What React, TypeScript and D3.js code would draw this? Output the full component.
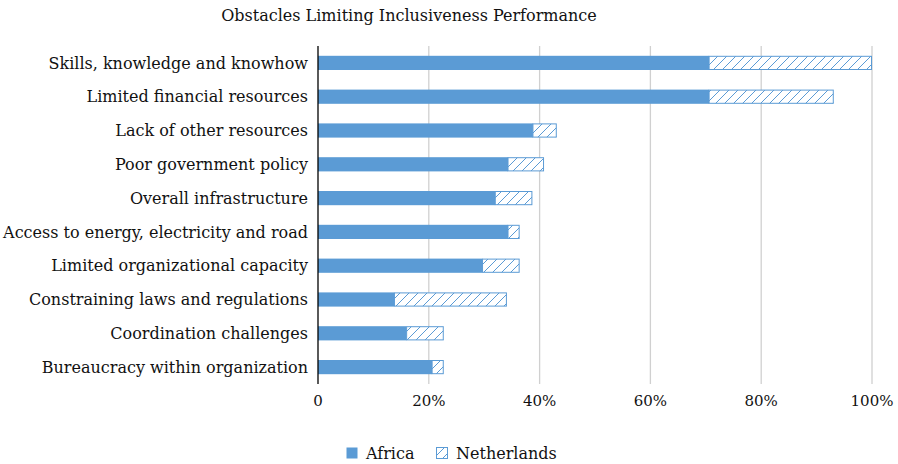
import React, { useEffect, useRef } from 'react'
import * as d3 from 'd3'

const categories = [
  'Skills, knowledge and knowhow',
  'Limited financial resources',
  'Lack of other resources',
  'Poor government policy',
  'Overall infrastructure',
  'Access to energy, electricity and road',
  'Limited organizational capacity',
  'Constraining laws and regulations',
  'Coordination challenges',
  'Bureaucracy within organization'
]
const africa = [70.6, 70.6, 38.8, 34.3, 32.0, 34.3, 29.7, 13.8, 16.0, 20.6]
const netherlands = [29.4, 22.5, 4.3, 6.5, 6.7, 2.1, 6.7, 20.3, 6.7, 2.1]
const ticks = [0, 20, 40, 60, 80, 100]
const seriesNames = ['Africa', 'Netherlands']

const W = 898
const H = 464
const BLUE = '#5B9BD5'
const FONT = 'DejaVu Serif'
const INK = '#111'

function App() {
  const ref = useRef<SVGSVGElement>(null)

  useEffect(() => {
    const svg = d3.select(ref.current)
    svg.selectAll('*').remove()

    const margin = { top: 46, left: 318, right: 26, bottom: 80 }
    const x = d3.scaleLinear().domain([0, 100]).range([margin.left, W - margin.right])
    const y = d3.scaleBand().domain(categories).range([margin.top, H - margin.bottom]).paddingInner(0.58).paddingOuter(0.29)

    // hatch pattern
    const defs = svg.append('defs')
    const pat = defs.append('pattern')
      .attr('id', 'hatch')
      .attr('patternUnits', 'userSpaceOnUse')
      .attr('width', 9)
      .attr('height', 9)
    pat.append('rect').attr('width', 9).attr('height', 9).attr('fill', '#fff')
    pat.append('path')
      .attr('d', 'M-2,2 L2,-2 M0,9 L9,0 M7,11 L11,7')
      .attr('stroke', BLUE)
      .attr('stroke-width', 1)

    // title
    svg.append('text')
      .attr('x', 409).attr('y', 21)
      .attr('text-anchor', 'middle')
      .attr('font-family', FONT)
      .attr('font-size', 16)
      .attr('fill', INK)
      .text('Obstacles Limiting Inclusiveness Performance')

    // gridlines
    svg.append('g').selectAll('line')
      .data(ticks.filter(t => t > 0))
      .join('line')
      .attr('x1', d => x(d)).attr('x2', d => x(d))
      .attr('y1', margin.top).attr('y2', H - margin.bottom)
      .attr('stroke', '#d0d0d0')
      .attr('stroke-width', 1.3)

    // bars
    const g = svg.append('g')
    g.selectAll('rect.africa')
      .data(categories)
      .join('rect')
      .attr('class', 'africa')
      .attr('x', x(0))
      .attr('y', d => y(d)!)
      .attr('width', (d, i) => x(africa[i]) - x(0))
      .attr('height', y.bandwidth())
      .attr('fill', BLUE)

    g.selectAll('rect.nl')
      .data(categories)
      .join('rect')
      .attr('class', 'nl')
      .attr('x', (d, i) => x(africa[i]))
      .attr('y', d => y(d)! + 0.5)
      .attr('width', (d, i) => x(africa[i] + netherlands[i]) - x(africa[i]) - 0.5)
      .attr('height', y.bandwidth() - 1)
      .attr('fill', 'url(#hatch)')
      .attr('stroke', BLUE)
      .attr('stroke-width', 1)

    // category labels
    svg.append('g').selectAll('text')
      .data(categories)
      .join('text')
      .attr('x', margin.left - 10)
      .attr('y', d => y(d)! + y.bandwidth() / 2)
      .attr('dy', '0.35em')
      .attr('text-anchor', 'end')
      .attr('font-family', FONT)
      .attr('font-size', 16)
      .attr('fill', INK)
      .text(d => d)

    // axis line
    svg.append('line')
      .attr('x1', x(0)).attr('x2', x(0))
      .attr('y1', margin.top).attr('y2', H - margin.bottom)
      .attr('stroke', '#000')
      .attr('stroke-width', 1.3)

    // tick labels
    svg.append('g').selectAll('text')
      .data(ticks)
      .join('text')
      .attr('x', d => x(d))
      .attr('y', 406)
      .attr('text-anchor', 'middle')
      .attr('font-family', FONT)
      .attr('font-size', 15)
      .attr('fill', INK)
      .text(d => d === 0 ? '0' : d + '%')

    // legend
    const legend = svg.append('g').attr('transform', 'translate(346,447)')
    const items = [
      { name: seriesNames[0], x: 0, fill: BLUE, stroke: 'none' },
      { name: seriesNames[1], x: 90, fill: 'url(#hatch)', stroke: BLUE }
    ]
    const li = legend.selectAll('g').data(items).join('g')
      .attr('transform', d => `translate(${d.x},0)`)
    li.append('rect')
      .attr('width', 11).attr('height', 11)
      .attr('x', 0.5).attr('y', 0.5)
      .attr('fill', d => d.fill)
      .attr('stroke', d => d.stroke)
    li.append('text')
      .attr('x', 20).attr('y', 6)
      .attr('dy', '0.35em')
      .attr('font-family', FONT)
      .attr('font-size', 16)
      .attr('fill', INK)
      .text(d => d.name)
  }, [])

  return (
    <svg ref={ref} width={W} height={H}
      style={{ position: 'absolute', left: 0, top: 0, background: '#fff' }} />
  )
}

export default App
